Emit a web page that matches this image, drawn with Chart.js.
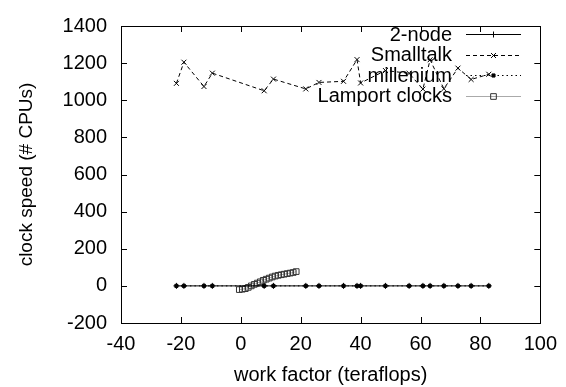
<!DOCTYPE html>
<html><head><meta charset="utf-8">
<script src="https://cdn.jsdelivr.net/npm/chart.js@4/dist/chart.umd.min.js"></script>
<style>html,body{margin:0;padding:0;background:#fff}#wrap{width:566px;height:387px}</style>
</head><body><div id="wrap"><canvas id="c" width="566" height="387"></canvas></div>
<script>
const xValues = [-21.5,-19,-12.3,-9.5,7.8,10.9,21.7,26.1,34.3,38.8,40,48.3,56.2,60.8,63.2,67.8,72.5,76.9,82.8];
const twoNode = [0,0,0,0,0,0,0,0,0,0,0,0,0,0,0,0,0,0,0];
const smalltalk = [1091,1205,1074,1146,1051,1114,1061,1096,1102,1219,1093,1160,1145,1060,1218,1062,1173,1112,1140];
const millenium = [0,0,0,0,0,0,0,0,0,0,0,0,0,0,0,0,0,0,0];
const lamportX = [-0.5,0.5,1.5,2.5,3.5,4.5,5.5,6.5,7.5,8.5,9.5,10.5,11.5,12.5,13.5,14.5,15.5,16.5,17.5,18.5];
const lamportY = [-20,-18,-15,-8,0,8,15,22,30,36,42,48,53,57,60,63,66,69,72,77];
const seriesNames = ['2-node','Smalltalk','millenium','Lamport clocks'];
const xTicks = [-40,-20,0,20,40,60,80,100];
const yTicks = [-200,0,200,400,600,800,1000,1200,1400];

const pts = (xs, ys) => xs.map((x,i)=>({x:x,y:ys[i]}));
const FONT = 'Liberation Sans, Arial, sans-serif';

const datasets = [
  {label:seriesNames[0], data:pts(xValues,twoNode), borderColor:'#000', borderWidth:1, pointStyle:'cross', pointRadius:3, pointBorderColor:'#000', pointBorderWidth:1, showLine:true, borderDash:[]},
  {label:seriesNames[1], data:pts(xValues,smalltalk), borderColor:'#000', borderWidth:1, pointStyle:'crossRot', pointRadius:3.5, pointBorderColor:'#000', pointBorderWidth:1, showLine:true, borderDash:[4,3]},
  {label:seriesNames[2], data:pts(xValues,millenium), borderColor:'#000', borderWidth:1, pointStyle:'rect', pointRadius:2.2, pointBackgroundColor:'#000', pointBorderColor:'#000', pointBorderWidth:1, showLine:true, borderDash:[1.5,3]},
  {label:seriesNames[3], data:pts(lamportX,lamportY), borderColor:'#aaa', borderWidth:1, pointStyle:'rect', pointRadius:4, pointBackgroundColor:'rgba(0,0,0,0)', pointBorderColor:'#333', pointBorderWidth:1, showLine:true, borderDash:[]}
];

const frame = {
  id:'frame',
  afterDraw(chart){
    const ctx = chart.ctx, a = chart.chartArea, xs = chart.scales.x, ys = chart.scales.y;
    ctx.save();
    ctx.strokeStyle = '#000'; ctx.lineWidth = 1; ctx.setLineDash([]);
    ctx.strokeRect(Math.round(a.left)+0.5, Math.round(a.top)+0.5, Math.round(a.right-a.left), Math.round(a.bottom-a.top));
    const L = 6;
    ctx.beginPath();
    xTicks.forEach(v=>{ const p = Math.round(xs.getPixelForValue(v))+0.5;
      ctx.moveTo(p,a.bottom); ctx.lineTo(p,a.bottom-L); ctx.moveTo(p,a.top); ctx.lineTo(p,a.top+L); });
    yTicks.forEach(v=>{ const p = Math.round(ys.getPixelForValue(v))+0.5;
      ctx.moveTo(a.left,p); ctx.lineTo(a.left+L,p); ctx.moveTo(a.right,p); ctx.lineTo(a.right-L,p); });
    ctx.stroke();
    // legend
    ctx.font = '20px ' + FONT;
    ctx.textAlign = 'right'; ctx.textBaseline = 'middle';
    chart.data.datasets.forEach((d,i)=>{
      const y = 34 + i*20.5;
      ctx.fillStyle = '#000';
      ctx.fillText(d.label, 452, y+1);
      ctx.strokeStyle = d.borderColor; ctx.lineWidth = 1; ctx.setLineDash(d.borderDash);
      ctx.beginPath(); ctx.moveTo(466, Math.round(y)+0.5); ctx.lineTo(521, Math.round(y)+0.5); ctx.stroke();
      ctx.setLineDash([]);
      ctx.strokeStyle = d.pointBorderColor; ctx.fillStyle = d.pointBackgroundColor || 'rgba(0,0,0,0)';
      Chart.helpers.drawPoint(ctx, {pointStyle:d.pointStyle, radius:d.pointRadius, borderWidth:1, rotation:0}, 493.5, Math.round(y)+0.5);
    });
    ctx.restore();
  }
};

new Chart(document.getElementById('c'), {
  type:'scatter',
  data:{datasets:datasets},
  options:{
    responsive:false, animation:false,
    layout:{padding:{left:0, top:19, right:20, bottom:0}},
    plugins:{legend:{display:false}, tooltip:{enabled:false}},
    scales:{
      x:{type:'linear', min:-40, max:100, afterBuildTicks:s=>{s.ticks = xTicks.map(v=>({value:v}));},
         afterFit:s=>{s.height = 64;},
         grid:{display:false, drawTicks:false}, border:{display:false},
         ticks:{color:'#000', font:{family:FONT, size:20}, padding:9, maxRotation:0, autoSkip:false, callback:v=>String(v)},
         title:{display:true, text:'work factor (teraflops)', color:'#000', font:{family:FONT, size:20}, padding:{top:0,bottom:0}}},
      y:{type:'linear', min:-200, max:1400, afterBuildTicks:s=>{s.ticks = yTicks.map(v=>({value:v}));},
         afterFit:s=>{s.width = 121;},
         grid:{display:false, drawTicks:false}, border:{display:false},
         ticks:{color:'#000', font:{family:FONT, size:20}, padding:14, autoSkip:false, callback:v=>String(v)},
         title:{display:true, text:'clock speed (# CPUs)', color:'#000', font:{family:FONT, size:19}, padding:{top:15,bottom:0}}}
    }
  },
  plugins:[frame]
});
</script></body></html>
